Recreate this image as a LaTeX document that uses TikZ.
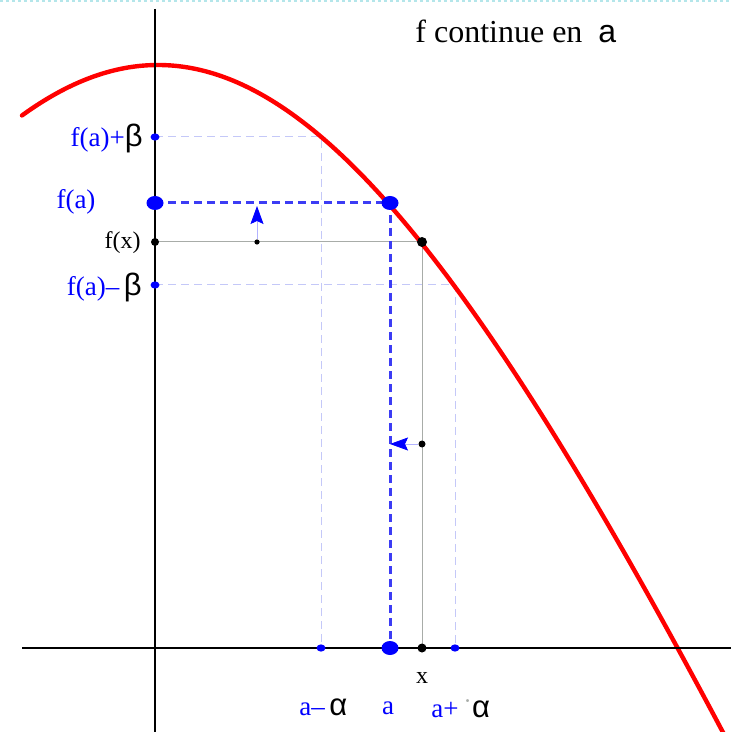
\documentclass[tikz,border=0pt]{standalone}
\usepackage{fontspec}
\setmainfont{Liberation Serif}
\newfontfamily\grkfont{Liberation Sans}
\usetikzlibrary{arrows.meta,backgrounds,shapes.geometric}
\definecolor{penblue}{HTML}{0000FF}
\definecolor{dashblue}{HTML}{3C3CF4}
\definecolor{paleblue}{HTML}{C4C8F8}
\definecolor{curvered}{HTML}{FF0000}
\definecolor{guidegray}{HTML}{A8ACA8}
\definecolor{edgecyan}{HTML}{B4E6EA}
\newcommand{\grk}[1]{{\grkfont\fontsize{15.5}{15.5}\selectfont\color{black}#1}}

\begin{document}
\begin{tikzpicture}[x=0.5pt,y=-0.5pt,
  lbl/.style={inner sep=0pt,text=penblue,font=\fontsize{13.5}{15}\selectfont},
  blk/.style={inner sep=0pt,text=black,font=\fontsize{12}{14}\selectfont},
  bigdot/.style={ellipse,fill=penblue,draw=none,inner sep=0pt,minimum width=8.5pt,minimum height=7pt},
  bluedot/.style={ellipse,fill=penblue,draw=none,inner sep=0pt,minimum width=4.5pt,minimum height=3.6pt},
  blackdot/.style={circle,fill=black,draw=none,inner sep=0pt,minimum size=#1},
  axis/.style={black,line width=1pt},
  pale/.style={paleblue,line width=0.5pt,dash pattern=on 4pt off 2.5pt},
  fadash/.style={dashblue,line width=1.5pt,dash pattern=on 4pt off 2.5pt},
  guide/.style={guidegray,line width=0.5pt},
  move/.style={-{Stealth[length=9pt,width=6.5pt,inset=1.5pt,penblue]},penblue!30,line width=0.4pt}]
\useasboundingbox (0,0) rectangle (731,732);
\clip (0,0) rectangle (731,732);
% frame edge
\draw[edgecyan,line width=0.6pt,dash pattern=on 1.5pt off 1.5pt] (0,1) -- (731,1);
% axes ends
\coordinate (ytop) at (155,9);
\coordinate (ybot) at (155,732);
\coordinate (xleft) at (22,648);
\coordinate (xright) at (731,648);
% dots on the y axis
\node[bluedot] (fap) at (155,137) {};
\node[bigdot] (fa) at (155,203) {};
\node[blackdot=4pt] (fx) at (155,242) {};
\node[bluedot] (fam) at (155,285) {};
% dots on the x axis
\node[bluedot] (am) at (321,648) {};
\node[bigdot] (a) at (390,648) {};
\node[blackdot=4.5pt] (x) at (422,648) {};
\node[bluedot] (ap) at (455,648) {};
% points on the curve and corners
\coordinate (cp) at (321,137);
\coordinate (cm) at (455,285);
\node[bigdot] (P) at (390,203) {};
\node[blackdot=5pt] (Q) at (422,242) {};
\node[blackdot=2.6pt] (fxm) at (257,242) {};
\node[blackdot=3.5pt] (vx) at (422,444) {};
\coordinate (uptip) at (257,206);
\coordinate (lefttip) at (390,444);
\begin{scope}[on background layer]
\draw[pale] (fap.center) -- (cp) -- (am.center);
\draw[pale] (fam.center) -- (cm) -- (ap.center);
\draw[guide] (fx.center) -- (Q.center) -- (x.center);
\draw[fadash] (fa.center) -- (P.center) -- (a.center);
\draw[curvered,line width=2.2pt,line cap=round] plot[domain=22:730,samples=120,smooth]
  (\x,{65+235*(sqrt(17.64+((\x-158)/100)^2)-4.2)});
\draw[axis] (ytop) -- (ybot);
\draw[axis] (xleft) -- (xright);
\end{scope}
\draw[move] (fxm) -- (uptip);
\draw[move] (vx) -- (lefttip);
% labels
\node[inner sep=0pt,anchor=base west,font=\fontsize{16}{18}\selectfont] (title) at (415,43)
  {f continue en\ \ {\grkfont a}};
\node[lbl,anchor=east] (lfap) at (143,138) {f(a)+\grk{β}};
\node[lbl] (lfa) at (76,202) {f(a)};
\node[blk,anchor=east] (lfx) at (141,243) {f(x)};
\node[lbl,anchor=east] (lfam) at (142,287) {f(a)–\,\grk{β}};
\node[blk] (lx) at (422,678) {x};
\node[lbl,anchor=west] (lam) at (299,707) {a–\,\grk{α}};
\node[lbl] (la) at (388,708) {a};
\node[lbl,anchor=west] (lap) at (431,709) {a+\,{\color{guidegray}˙}\grk{α}};
\end{tikzpicture}
\end{document}
